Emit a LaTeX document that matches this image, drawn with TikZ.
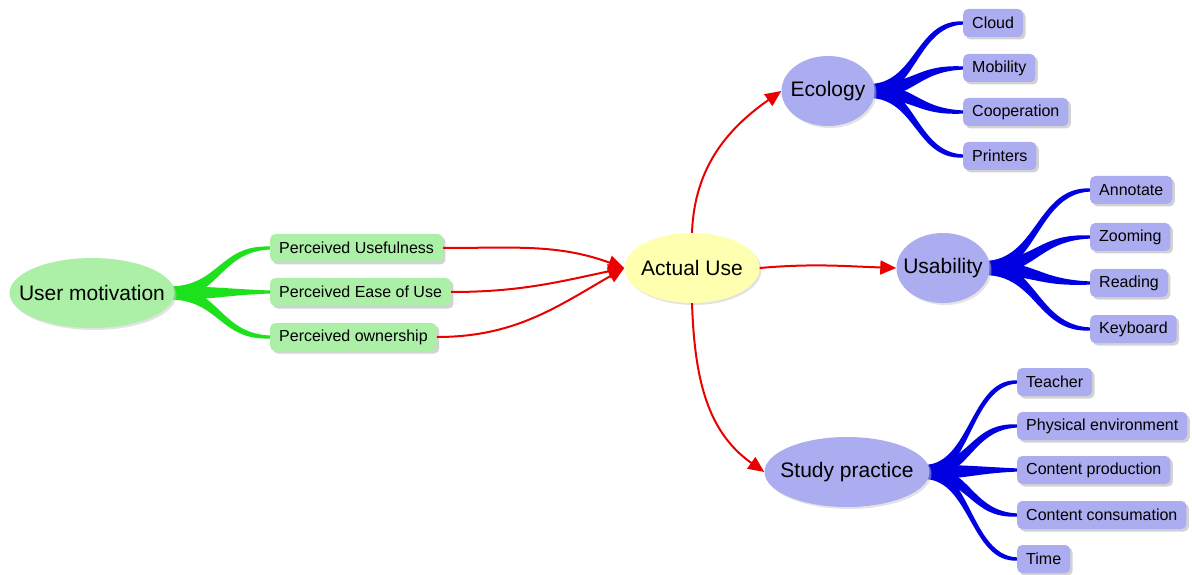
\documentclass[tikz,border=0pt]{standalone}
\usepackage{fontspec}
\setmainfont{Liberation Sans}
\usetikzlibrary{arrows.meta,calc,shadows,backgrounds,shapes.geometric}
\definecolor{gfill}{RGB}{172,240,168}
\definecolor{yfill}{RGB}{255,255,176}
\definecolor{bfill}{RGB}{172,172,240}
\definecolor{gbranch}{RGB}{30,225,30}
\definecolor{bbranch}{RGB}{0,0,225}
\definecolor{rline}{RGB}{235,0,0}
\newcommand\taper[5]{%
  \fill[#5] let \p1=(#1), \p2=(#2), \p3=($(#1)!0.5!(#2)$) in
    (\x1,\y1+#3) .. controls (\x3,\y1+#3) and (\x3,\y2+0.55*#3) .. (\x2,\y2+#4)
    -- (\x2,\y2-#4) .. controls (\x3,\y2-0.55*#3) and (\x3,\y1-#3) .. (\x1,\y1-#3) -- cycle;}
\newcommand\ctext[1]{\makebox[0pt]{#1}}
\begin{document}
\begin{tikzpicture}[x=1pt,y=1pt,
  big/.style={ellipse, inner sep=0pt, minimum height=70pt,
    font=\fontsize{21}{24}\selectfont,
    drop shadow={shadow xshift=2pt,shadow yshift=-2pt,fill=black!22}},
  leaf/.style={rectangle, rounded corners=5pt, minimum height=28pt, inner xsep=9pt,
    anchor=west, font=\fontsize{16}{18}\selectfont,
    drop shadow={shadow xshift=2.5pt,shadow yshift=-2.5pt,fill=black!35}},
  gleaf/.style={leaf, fill=gfill},
  bleaf/.style={leaf, fill=bfill},
  redarrow/.style={draw=rline, line width=2pt, -{Triangle[length=16pt,width=14pt]}},
]
\useasboundingbox (0,0) rectangle (1192,574);
% main nodes
\node[big, fill=gfill, minimum width=165pt] (um) at (92,281) {\ctext{User motivation}};
\node[big, fill=yfill, minimum width=135pt] (au) at (692,306) {\ctext{Actual Use}};
\node[big, fill=bfill, minimum width=93pt] (eco) at (828,483) {\ctext{Ecology}};
\node[big, fill=bfill, minimum width=93pt] (usa) at (943,306) {\ctext{Usability}};
\node[big, fill=bfill, minimum width=165pt] (stp) at (847,102) {\ctext{Study practice}};
% green leaves
\node[gleaf] (pu) at (270,326) {Perceived Usefulness};
\node[gleaf] (peu) at (270,282) {Perceived Ease of Use};
\node[gleaf] (po) at (270,237) {Perceived ownership};
% ecology leaves
\node[bleaf] (cloud) at (963,551) {Cloud};
\node[bleaf] (mob) at (963,506) {Mobility};
\node[bleaf] (coop) at (963,462) {Cooperation};
\node[bleaf] (prn) at (963,418) {Printers};
% usability leaves
\node[bleaf] (ann) at (1090,384) {Annotate};
\node[bleaf] (zoom) at (1090,337) {Zooming};
\node[bleaf] (read) at (1090,291) {Reading};
\node[bleaf] (key) at (1090,245) {Keyboard};
% study practice leaves
\node[bleaf] (tea) at (1017,192) {Teacher};
\node[bleaf] (phy) at (1017,148) {Physical environment};
\node[bleaf] (cpr) at (1017,104) {Content production};
\node[bleaf] (cco) at (1017,59) {Content consumation};
\node[bleaf] (tim) at (1017,15) {Time};
% branches
\begin{scope}[on background layer]
\coordinate (umo) at ($(um.east)+(-6,0)$);
\foreach \t in {pu,peu,po} {\taper{umo}{\t.west}{6.5pt}{1.5pt}{gbranch}}
\coordinate (ecoo) at ($(eco.east)+(-6,0)$);
\foreach \t in {cloud,mob,coop,prn} {\taper{ecoo}{\t.west}{7pt}{1.6pt}{bbranch}}
\coordinate (usao) at ($(usa.east)+(-6,0)$);
\foreach \t in {ann,zoom,read,key} {\taper{usao}{\t.west}{7pt}{1.6pt}{bbranch}}
\coordinate (stpo) at ($(stp.east)+(-6,0)$);
\foreach \t in {tea,phy,cpr,cco,tim} {\taper{stpo}{\t.west}{7pt}{1.6pt}{bbranch}}
\end{scope}
% red arrows
\draw[redarrow] (pu.east) to[out=0,in=160] (au.west);
\draw[redarrow] (peu.east) to[out=0,in=192] (au.west);
\draw[redarrow] (po.east) to[out=0,in=210] (au.west);
\draw[redarrow] (au.north) to[out=88,in=215] (eco.west);
\draw[redarrow] (au.east) to[out=5,in=178] (usa.west);
\draw[redarrow] (au.south) to[out=-88,in=145] (stp.west);
\end{tikzpicture}
\end{document}
